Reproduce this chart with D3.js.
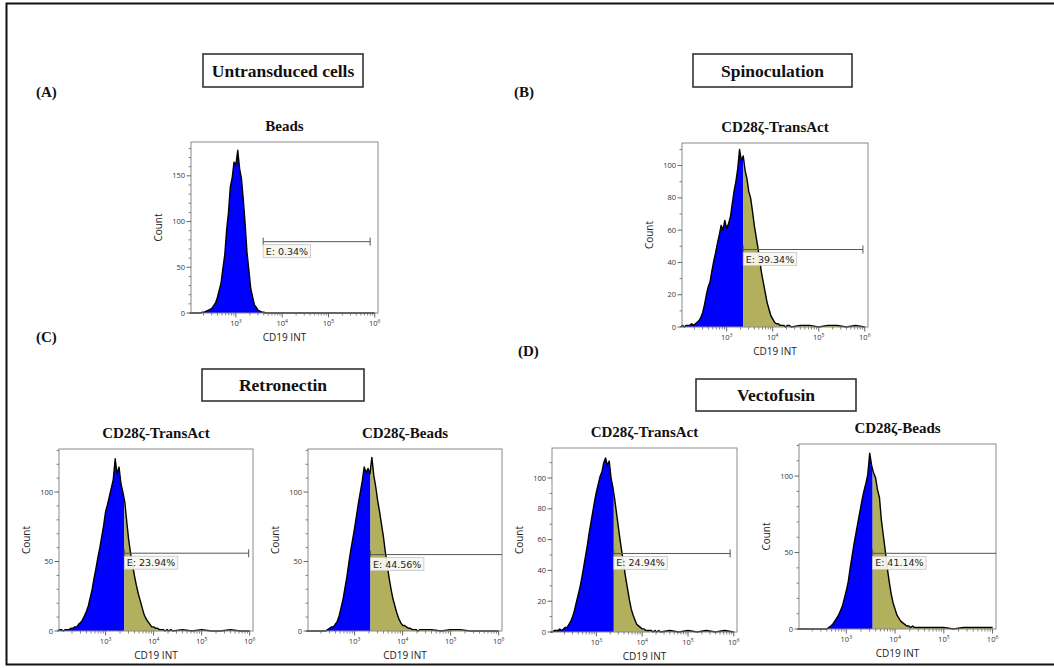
<!DOCTYPE html>
<html>
<head>
<meta charset="utf-8">
<script src="https://cdn.jsdelivr.net/npm/d3@7"></script>
<style>
  body { margin: 0; background: #fff; }
</style>
</head>
<body>
<div id="figure"></div>
<script>
// ---- data ----
const panelTitles = ["Beads", "CD28ζ-TransAct", "CD28ζ-TransAct", "CD28ζ-Beads", "CD28ζ-TransAct", "CD28ζ-Beads"];
const gateLabels = ["E: 0.34%", "E: 39.34%", "E: 23.94%", "E: 44.56%", "E: 24.94%", "E: 41.14%"];
const gateStartLog = [3.59, 3.36, 3.39, 3.33, 3.38, 3.54];
const gateEndLog = [5.90, 5.96, 5.98, 6.07, 5.92, 6.07];
const gateCount = [78, 48, 56, 55, 51, 49.5];
const countMax = [187, 114, 131, 131, 119.5, 121];
const countTicks = [[0, 50, 100, 150], [0, 20, 40, 60, 80, 100], [0, 50, 100], [0, 50, 100], [0, 20, 40, 60, 80, 100], [0, 50, 100]];
const decadeTicks = [3, 4, 5, 6];
const logDomain = [2.03, 6.07];

// histogram bins: log10(CD19) from 2.00 in steps of 0.04
const binStart = 2.0, binStep = 0.04;
const countsA = [0,0,0,0,0,0,0,1,1,2,3,4,5,8,11,17,25,33,49,64,91,110,138,148,165,162,178,158,147,124,97,66,47,27,18,9,6,3,2,1,1,0,0];
const countsB = [0,1,0,1,1,1,2,1,2,3,4,6,9,14,20,25,28,35,41,46,52,57,63,60,66,61,64,68,76,84,90,98,110,103,106,97,92,84,80,72,63,56,49,41,33,27,21,15,11,7,5,3,2,2,1,1,1,0,1,1,0];
const countsC1 = [0,1,1,0,1,1,1,2,2,3,3,5,6,8,11,14,18,24,30,38,45,53,60,68,76,86,91,97,103,109,124,113,118,106,100,93,79,66,56,48,40,33,27,22,17,12,9,7,5,3,3,2,2,1,1,1,0,1,0,1,0];
const countsC2 = [0,0,0,0,0,0,0,0,0,0,0,1,2,3,3,5,7,11,17,23,31,39,49,58,66,74,83,92,100,108,118,114,117,113,125,112,104,94,86,77,68,57,47,38,30,23,18,13,9,6,4,4,3,2,2,1,1,1,0,1,1];
const countsD1 = [0,0,1,1,1,2,1,2,3,3,5,7,10,14,19,24,29,35,42,49,56,64,71,78,85,91,96,101,104,110,113,108,111,100,94,86,77,68,59,51,43,35,28,21,15,11,8,5,4,3,2,2,1,1,1,1,0,1,0,1,0];
const countsD2 = [0,0,0,0,0,0,0,0,0,0,0,0,0,0,0,0,1,2,3,5,7,9,12,15,20,25,31,40,48,56,63,70,77,84,90,95,101,115,107,102,99,91,86,71,61,51,40,31,23,17,13,9,7,5,4,3,2,2,1,2,1];
// sparse high-intensity tail
const tailLogs = [4.6, 4.8, 5.0, 5.2, 5.4, 5.6, 5.8, 6.0];
const tailA = [0, 0, 0, 0, 0, 0, 0, 0];
const tailB = [1, 1, 0, 1, 1, 0, 1, 0];
const tailC1 = [1, 0, 1, 0, 0, 1, 0, 0];
const tailC2 = [1, 0, 1, 1, 0, 0, 0, 0];
const tailD1 = [1, 0, 1, 0, 1, 0, 1, 0];
const tailD2 = [1, 1, 1, 0, 1, 1, 1, 1];

const panelCounts = [countsA, countsB, countsC1, countsC2, countsD1, countsD2];
const panelTails = [tailA, tailB, tailC1, tailC2, tailD1, tailD2];

const headerLabels = ["Untransduced cells", "Spinoculation", "Retronectin", "Vectofusin"];
const panelLetters = ["(A)", "(B)", "(C)", "(D)"];

// ---- layout ----
const plotBoxes = [
  {x: 191, y: 142, w: 187, h: 171},
  {x: 682, y: 143, w: 186, h: 184},
  {x: 59, y: 449, w: 194, h: 182},
  {x: 308, y: 449, w: 194, h: 182},
  {x: 552, y: 448, w: 185, h: 184},
  {x: 799, y: 444, w: 197, h: 185}
];
const headerBoxes = [
  {x: 203, y: 54, w: 160, h: 33},
  {x: 693, y: 54, w: 159, h: 33},
  {x: 202, y: 369, w: 162, h: 32},
  {x: 696, y: 379, w: 160, h: 32}
];
const letterPos = [[36, 97], [514, 97], [36, 342], [518, 356]];

const serif = "'Liberation Serif', 'Times New Roman', serif";
const sans = "'Open Sans', 'DejaVu Sans', sans-serif";
const blue = "#0000ff", olive = "#b2b05c";

const svg = d3.select("#figure")
  .append("svg")
  .attr("width", 1054)
  .attr("height", 668)
  .style("font-family", sans);

// outer frame
svg.append("rect")
  .attr("x", 6.5).attr("y", 3.5)
  .attr("width", 1060).attr("height", 661)
  .attr("fill", "none")
  .attr("stroke", "#111")
  .attr("stroke-width", 2);

// header boxes
headerLabels.forEach((label, i) => {
  const b = headerBoxes[i];
  svg.append("rect")
    .attr("x", b.x).attr("y", b.y).attr("width", b.w).attr("height", b.h)
    .attr("fill", "#fff").attr("stroke", "#333").attr("stroke-width", 1.6);
  svg.append("text")
    .attr("x", b.x + b.w / 2).attr("y", b.y + b.h / 2 + 6)
    .attr("text-anchor", "middle")
    .style("font-family", serif).style("font-weight", "bold").style("font-size", "17.5px")
    .attr("fill", "#111")
    .text(label);
});

// panel letters
panelLetters.forEach((label, i) => {
  svg.append("text")
    .attr("x", letterPos[i][0]).attr("y", letterPos[i][1])
    .style("font-family", serif).style("font-weight", "bold").style("font-size", "15px")
    .attr("fill", "#111")
    .text(label);
});

function drawPanel(i) {
  const b = plotBoxes[i];
  const g = svg.append("g").attr("transform", `translate(${b.x},${b.y})`);

  const x = d3.scaleLog()
    .domain([Math.pow(10, logDomain[0]), Math.pow(10, logDomain[1])])
    .range([0, b.w]);
  const y = d3.scaleLinear()
    .domain([0, countMax[i]])
    .range([b.h, 0]);

  // histogram points
  const pts = panelCounts[i].map((c, k) => ({v: Math.pow(10, binStart + k * binStep), c: c}));
  panelTails[i].forEach((c, k) => pts.push({v: Math.pow(10, tailLogs[k]), c: c}));

  const splitX = x(Math.pow(10, gateStartLog[i]));

  const clipBlue = `clipBlue${i}`, clipOlive = `clipOlive${i}`;
  const defs = g.append("defs");
  defs.append("clipPath").attr("id", clipBlue)
    .append("rect").attr("x", 0).attr("y", 0).attr("width", splitX).attr("height", b.h);
  defs.append("clipPath").attr("id", clipOlive)
    .append("rect").attr("x", splitX).attr("y", 0).attr("width", b.w - splitX).attr("height", b.h);

  const area = d3.area()
    .x(d => x(d.v))
    .y0(b.h)
    .y1(d => y(d.c));
  const line = d3.line()
    .x(d => x(d.v))
    .y(d => y(d.c));

  g.append("path").datum(pts)
    .attr("d", area).attr("fill", blue).attr("clip-path", `url(#${clipBlue})`);
  g.append("path").datum(pts)
    .attr("d", area).attr("fill", olive).attr("clip-path", `url(#${clipOlive})`);
  g.append("path").datum(pts)
    .attr("d", line).attr("fill", "none").attr("stroke", "#000").attr("stroke-width", 1.4)
    .attr("stroke-linejoin", "round");

  // plot frame
  g.append("rect")
    .attr("width", b.w).attr("height", b.h)
    .attr("fill", "none").attr("stroke", "#8a8a8a").attr("stroke-width", 1);

  // y axis ticks
  const yMinor = d3.range(0, countMax[i], 10).filter(v => !countTicks[i].includes(v));
  g.selectAll(".yminor").data(yMinor).join("line")
    .attr("x1", -2.5).attr("x2", 0)
    .attr("y1", d => y(d)).attr("y2", d => y(d))
    .attr("stroke", "#666").attr("stroke-width", 0.8);
  g.selectAll(".ymajor").data(countTicks[i]).join("line")
    .attr("x1", -4.5).attr("x2", 0)
    .attr("y1", d => y(d)).attr("y2", d => y(d))
    .attr("stroke", "#555").attr("stroke-width", 0.9);
  g.selectAll(".ylab").data(countTicks[i]).join("text")
    .attr("x", -6).attr("y", d => y(d) + 2.5)
    .attr("text-anchor", "end")
    .style("font-size", "7.5px").attr("fill", "#333")
    .text(d => d);

  // x axis ticks (log)
  const xMinor = [];
  for (let k = 2; k <= 5; k++) {
    for (let m = 2; m <= 9; m++) {
      const v = m * Math.pow(10, k);
      if (Math.log10(v) > logDomain[0] && Math.log10(v) < logDomain[1]) xMinor.push(v);
    }
  }
  g.selectAll(".xminor").data(xMinor).join("line")
    .attr("x1", d => x(d)).attr("x2", d => x(d))
    .attr("y1", b.h).attr("y2", b.h + 2.5)
    .attr("stroke", "#666").attr("stroke-width", 0.8);
  g.selectAll(".xmajor").data(decadeTicks).join("line")
    .attr("x1", d => x(Math.pow(10, d))).attr("x2", d => x(Math.pow(10, d)))
    .attr("y1", b.h).attr("y2", b.h + 4.5)
    .attr("stroke", "#555").attr("stroke-width", 0.9);
  const xl = g.selectAll(".xlab").data(decadeTicks).join("text")
    .attr("x", d => x(Math.pow(10, d)))
    .attr("y", b.h + 13)
    .attr("text-anchor", "middle")
    .style("font-size", "7.5px").attr("fill", "#333");
  xl.append("tspan").text("10");
  xl.append("tspan").attr("dy", -3).style("font-size", "5px").text(d => d);

  // axis titles
  g.append("text")
    .attr("x", b.w / 2).attr("y", b.h + 28)
    .attr("text-anchor", "middle")
    .style("font-size", "10px").attr("fill", "#222")
    .text("CD19 INT");
  g.append("text")
    .attr("transform", `translate(-29,${b.h / 2}) rotate(-90)`)
    .attr("text-anchor", "middle")
    .style("font-size", "10px").attr("fill", "#222")
    .text("Count");

  // panel title
  g.append("text")
    .attr("x", b.w / 2).attr("y", -11)
    .attr("text-anchor", "middle")
    .style("font-family", serif).style("font-weight", "bold").style("font-size", "15px")
    .attr("fill", "#111")
    .text(panelTitles[i]);

  // gate
  const gx1 = splitX;
  const gx2 = Math.min(x(Math.pow(10, gateEndLog[i])), b.w);
  const gy = y(gateCount[i]);
  g.append("line")
    .attr("x1", gx1).attr("x2", gx2).attr("y1", gy).attr("y2", gy)
    .attr("stroke", "#555").attr("stroke-width", 1);
  [gx1, gx2].forEach(px => {
    if (px < b.w - 0.5) {
      g.append("line")
        .attr("x1", px).attr("x2", px).attr("y1", gy - 4).attr("y2", gy + 4)
        .attr("stroke", "#555").attr("stroke-width", 1);
    }
  });
  const lab = g.append("g").attr("transform", `translate(${gx1},${gy + 3})`);
  const labRect = lab.append("rect")
    .attr("height", 13)
    .attr("fill", "#f7f7f2").attr("fill-opacity", 0.92)
    .attr("stroke", "#c4c4c4").attr("stroke-width", 0.8);
  const labText = lab.append("text")
    .attr("x", 2.5).attr("y", 10)
    .style("font-family", "'DejaVu Sans', sans-serif").style("font-size", "9.5px")
    .attr("fill", "#222")
    .text(gateLabels[i]);
  labRect.attr("width", labText.node().getComputedTextLength() + 5);
}

plotBoxes.forEach((b, i) => drawPanel(i));
</script>
</body>
</html>
